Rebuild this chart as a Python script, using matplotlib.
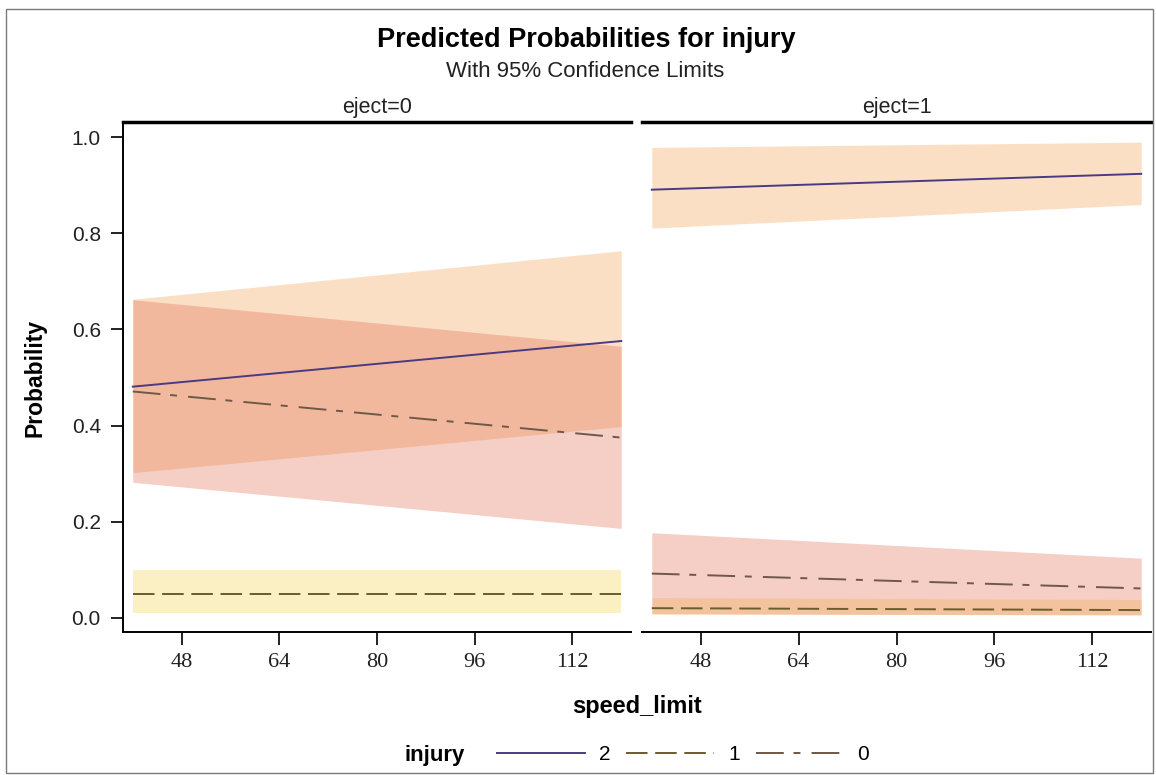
import numpy as np
import matplotlib
matplotlib.use("Agg")
import matplotlib.pyplot as plt
from matplotlib.patches import Rectangle

plt.rcParams['font.family'] = ['Liberation Sans', 'DejaVu Sans']
plt.rcParams['lines.scale_dashes'] = False

# speed limits at which the model was evaluated
speed = np.array([40, 120])
panels = ["eject=0", "eject=1"]
levels = ["2", "1", "0"]

# predicted probability, lower and upper 95% limits, per eject level
p2 = [[0.481, 0.576], [0.891, 0.924]]
lo2 = [[0.302, 0.398], [0.811, 0.860]]
hi2 = [[0.663, 0.764], [0.979, 0.990]]

p1 = [[0.049, 0.049], [0.020, 0.016]]
lo1 = [[0.010, 0.010], [0.008, 0.006]]
hi1 = [[0.100, 0.100], [0.042, 0.038]]

p0 = [[0.471, 0.375], [0.092, 0.061]]
lo0 = [[0.282, 0.186], [0.008, 0.006]]
hi0 = [[0.662, 0.565], [0.177, 0.124]]

xticks = [48, 64, 80, 96, 112]
yticks = [0.0, 0.2, 0.4, 0.6, 0.8, 1.0]

band_col = {"2": "#f59841", "1": "#f5cd3e", "0": "#de5f41"}
line_col = {"2": "#4a3a84", "1": "#6b5b2e", "0": "#6e5848"}
line_sty = {"2": "-", "1": (0, (15.5, 5.5)), "0": (0, (20, 7, 5, 8))}

W, H = 1156, 775
fig = plt.figure(figsize=(W / 100, H / 100), dpi=100)

ax_y0, ax_h = 1 - 631.7 / H, 510 / H
ax0 = fig.add_axes([123 / W, ax_y0, 508 / W, ax_h])
ax1 = fig.add_axes([642 / W, ax_y0, 509 / W, ax_h])

series = {"2": (p2, lo2, hi2), "1": (p1, lo1, hi1), "0": (p0, lo0, hi0)}

for i, ax in enumerate([ax0, ax1]):
    for lev in levels:
        p, lo, hi = series[lev]
        ax.fill_between(speed, lo[i], hi[i], color=band_col[lev], alpha=0.3,
                        linewidth=0, zorder=1)
    for lev in levels:
        p, lo, hi = series[lev]
        ax.plot(speed, p[i], color=line_col[lev], linestyle=line_sty[lev],
                linewidth=1.4, zorder=3, label=lev)

    ax.set_xlim(38.4, 121.6)
    ax.set_ylim(-0.029, 1.0325)
    ax.set_xticks(xticks)
    ax.set_xticklabels([str(t) for t in xticks], family="Liberation Serif",
                       fontsize=16)
    ax.tick_params(axis="x", direction="out", length=9, width=1.4, pad=6,
                   colors="#222222")
    ax.spines["right"].set_visible(False)
    ax.spines["top"].set_linewidth(2.5)
    ax.spines["bottom"].set_linewidth(1.4)
    ax.spines["left"].set_linewidth(1.4)
    ax.text(0.5, 1.0 + 14 / 510, panels[i], transform=ax.transAxes,
            ha="center", va="center", fontsize=15.5, color="#222222")

ax0.set_yticks(yticks)
ax0.set_yticklabels(["%.1f" % t for t in yticks], fontsize=15)
ax0.tick_params(axis="y", direction="out", length=9, width=1.4, pad=7,
                colors="#222222")
ax1.spines["left"].set_visible(False)
ax1.set_yticks([])

# titles and axis labels
fig.text(586 / W, 1 - 47 / H, "Predicted Probabilities for injury",
         ha="center", va="baseline", fontsize=19.5, fontweight="bold")
fig.text(585 / W, 1 - 77 / H, "With 95% Confidence Limits",
         ha="center", va="baseline", fontsize=16, color="#222222")
fig.text(35 / W, 1 - 377.7 / H, "Probability", rotation=90,
         ha="center", va="center", fontsize=16.5, fontweight="bold")
fig.text(637 / W, 1 - 706 / H, "speed_limit", ha="center", va="center",
         fontsize=17, fontweight="bold")

# legend along the bottom
handles, labels = ax0.get_legend_handles_labels()
fig.legend(handles, labels, loc="center left",
           bbox_to_anchor=(497 / W, 1 - 755 / H), ncol=3, frameon=False,
           fontsize=15, handlelength=4.2, handletextpad=0.7,
           columnspacing=0.75, borderpad=0, borderaxespad=0)
fig.text(465 / W, 1 - 755 / H, "injury", ha="right", va="center",
         fontsize=16, fontweight="bold")

# thin frame around the whole graph
fig.patches.append(Rectangle((6 / W, 2 / H), 1147 / W, 764 / H,
                             transform=fig.transFigure, fill=False,
                             edgecolor="#7a7a7a", linewidth=1))

fig.savefig("out.png", dpi=100, facecolor="white")
